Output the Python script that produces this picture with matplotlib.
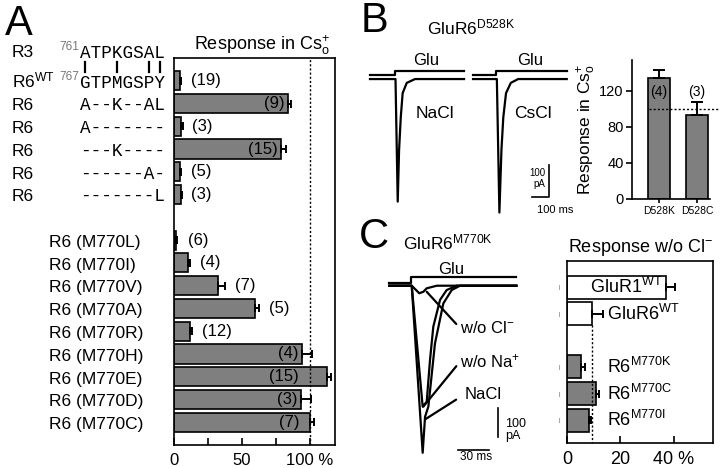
import matplotlib
matplotlib.use('Agg')
import matplotlib.pyplot as plt
import numpy as np

plt.rcParams['font.family'] = ['Liberation Sans', 'DejaVu Sans']
plt.rcParams['mathtext.fontset'] = 'custom'
plt.rcParams['mathtext.rm'] = 'Liberation Sans'
plt.rcParams['mathtext.it'] = 'Liberation Sans:italic'
plt.rcParams['mathtext.bf'] = 'Liberation Sans:bold'
plt.rcParams['axes.linewidth'] = 1.2

# ---------------- data ----------------
# panel A
a_top_labels = ['R6$^{\\mathrm{WT}}$', 'R6', 'R6', 'R6', 'R6', 'R6']
a_seqs = ['GTPMGSPY', 'A--K--AL', 'A-------', '---K----', '------A-', '-------L']
r3_seq = 'ATPKGSAL'
a_mark_pos = [0, 3, 6, 7]   # residues joined by a bar between R3 and R6
a_bot_labels = ['R6 (M770L)', 'R6 (M770I)', 'R6 (M770V)', 'R6 (M770A)', 'R6 (M770R)',
                'R6 (M770H)', 'R6 (M770E)', 'R6 (M770D)', 'R6 (M770C)']
a_vals = [4.5, 84, 5, 79, 4.5, 5, 1.5, 10.5, 32, 59.6, 12, 94.4, 112.7, 93.7, 99.8]
a_errs = [1.0, 2.0, 1.5, 3.0, 0.8, 0.8, 0.8, 1.5, 5.5, 3.0, 1.5, 7.0, 3.0, 7.0, 3.0]
a_n = [19, 9, 3, 15, 5, 3, 6, 4, 7, 5, 12, 4, 15, 3, 7]

# panel B
b_names = ['D528K', 'D528C']
b_vals = [134, 93]
b_errs = [9, 15]
b_n = [4, 3]
# traces (ms, pA)
b_nacl_t = [0, 150, 163, 171, 181, 192, 216, 265, 553]
b_nacl_i = [0, 0, -383, -222, -119, -44, -12, 0, 0]
b_cscl_t = [0, 140, 155, 167, 178, 194, 222, 265, 551]
b_cscl_i = [0, 0, -417, -222, -119, -44, -12, 0, 0]
b_cmd_nacl_t = [0, 147, 147, 553]
b_cmd_cscl_t = [0, 135, 135, 551]
b_cmd_lvl = [12, 12, 26, 26]

# panel C
c_names = ['GluR1$^{\\mathrm{WT}}$', 'GluR6$^{\\mathrm{WT}}$', 'R6$^{\\mathrm{M770K}}$',
           'R6$^{\\mathrm{M770C}}$', 'R6$^{\\mathrm{M770I}}$']
c_vals = [37, 9.5, 5.4, 10.7, 8.3]
c_errs = [3.5, 3.9, 1.2, 1.3, 0.7]
c_fill = ['white', 'white', '#7f7f7f', '#7f7f7f', '#7f7f7f']
c_cmd_t = [0, 20.7, 20.7, 123]
c_cmd_lvl = [8, 8, 29, 29]
c_nacl_t = [0, 21.7, 32.3, 34.6, 37.8, 44.2, 52.3, 60.4, 68.4, 123]
c_nacl_i = [0, 0, -576, -452, -417, -199, -61, -15, 0, 0]
c_nona_t = [0, 21.7, 32.3, 36.2, 39.4, 42.6, 49.1, 55.5, 65.2, 123]
c_nona_i = [0, 0, -417, -400, -256, -141, -49, -15, 0, 0]
c_nocl_t = [0, 21.7, 29, 32.9, 36.2, 45.9, 123]
c_nocl_i = [0, 0, -26, -21, -9, 0, 0]

GRAY = '#7f7f7f'
W, H = 720, 468
fig = plt.figure(figsize=(7.2, 4.68), dpi=100)


def px_axes(x0, y0, x1, y1):
    return fig.add_axes([x0 / W, 1 - y1 / H, (x1 - x0) / W, (y1 - y0) / H])


def fx(px):
    # figure pixel -> axes fraction for panel A
    return (px - 174) / 161.0


# panel letters
fig.text(5 / W, 1 - 35 / H, 'A', fontsize=30, va='baseline')
fig.text(361 / W, 1 - 32 / H, 'B', fontsize=30, va='baseline')
fig.text(359 / W, 1 - 248 / H, 'C', fontsize=30, va='baseline')

# ---------------- panel A ----------------
axA = px_axes(174, 58, 335, 445)
a_rows = list(range(6)) + list(range(7, 16))
axA.barh(a_rows, a_vals, height=0.84, color=GRAY, edgecolor='black', linewidth=1.2)
axA.errorbar(a_vals, a_rows, xerr=[np.zeros(len(a_vals)), a_errs], fmt='none',
             ecolor='black', elinewidth=1.4, capsize=3, capthick=1.4)
axA.axvline(100, color='black', ls=(0, (1.5, 1.5)), lw=1)
axA.set_xlim(0, 118.4)
axA.set_ylim(16, -1)
axA.set_yticks([])
axA.set_xticks([0, 50, 100])
axA.set_xticklabels(['0', '50', '100 %'])
axA.set_xticks([25, 75], minor=True)
axA.tick_params(axis='x', which='both', direction='in', length=5, width=1.2,
                labelsize=12, pad=6)
axA.text(fx(262), 1 + 13 / 387, 'Response in Cs$^{+}_{\\mathrm{o}}$', transform=axA.transAxes,
         ha='center', va='center', fontsize=13)

for r, v, e, n in zip(a_rows, a_vals, a_errs, a_n):
    if v > 75:
        axA.text(min(v - 3, 92), r, '(%d)' % n, ha='right', va='center', fontsize=12)
    else:
        axA.text(max(v + e, 3) + 7, r, '(%d)' % n, ha='left', va='center', fontsize=12)

yt = axA.get_yaxis_transform()
mono = 'Liberation Mono'
bl = 0.3  # baseline below row centre
axA.text(fx(12), -1.03, 'R3', transform=yt, ha='left', va='baseline', fontsize=12.5)
axA.text(fx(80), -1.0, r3_seq, transform=yt, ha='left', va='baseline', family=mono, fontsize=12.7)
axA.text(fx(79), -1.35, '761', transform=yt, ha='right', va='baseline', fontsize=8.5, color='#777777')
axA.text(fx(79), -0.03, '767', transform=yt, ha='right', va='baseline', fontsize=8.5, color='#777777')
for p in a_mark_pos:
    xm = fx(80 + 10.6 * (p + 0.5))
    axA.plot([xm, xm], [-0.82, -0.39], transform=yt, color='black', lw=1.6, clip_on=False)
for r, (lab, seq) in enumerate(zip(a_top_labels, a_seqs)):
    axA.text(fx(12), r + bl, lab, transform=yt, ha='left', va='baseline', fontsize=12.5)
    axA.text(fx(80), r + bl, seq, transform=yt, ha='left', va='baseline', family=mono, fontsize=12.7)
for r, lab in zip(range(7, 16), a_bot_labels):
    axA.text(fx(49), r + bl, lab, transform=yt, ha='left', va='baseline', fontsize=12.5)

# ---------------- panel B traces ----------------
axBt = px_axes(365, 40, 580, 225)
axBt.set_xlim(-29.4, 1235)
axBt.set_ylim(-456, 122)
axBt.axis('off')
for off, t, i, ct in [(0, b_nacl_t, b_nacl_i, b_cmd_nacl_t), (606, b_cscl_t, b_cscl_i, b_cmd_cscl_t)]:
    axBt.plot(np.array(t) + off, i, color='black', lw=1.6)
    axBt.plot(np.array(ct) + off, b_cmd_lvl, color='black', lw=1.6)
axBt.text(329, 44, 'Glu', ha='center', va='baseline', fontsize=12)
axBt.text(941, 44, 'Glu', ha='center', va='baseline', fontsize=12)
axBt.text(382, -122, 'NaCl', ha='center', va='baseline', fontsize=12.5)
axBt.text(959, -122, 'CsCl', ha='center', va='baseline', fontsize=12.5)
axBt.plot([1053, 1053, 953], [-269, -369, -369], color='black', lw=1.2)
axBt.text(1032, -303, '100', ha='right', va='baseline', fontsize=7)
axBt.text(1032, -336, 'pA', ha='right', va='baseline', fontsize=7)
axBt.text(982, -419, '100 ms', ha='left', va='baseline', fontsize=8)
fig.text(427 / W, 1 - 34.5 / H, 'GluR6$^{\\mathrm{D528K}}$', fontsize=12.5, va='baseline')

# ---------------- panel B bars ----------------
axBb = px_axes(632, 60, 710, 199)
xb = np.arange(len(b_vals))
axBb.bar(xb, b_vals, width=0.58, color=GRAY, edgecolor='black', linewidth=1.2)
axBb.errorbar(xb, b_vals, yerr=[np.zeros(len(b_vals)), b_errs], fmt='none',
              ecolor='black', elinewidth=1.4, capsize=4, capthick=1.4)
axBb.plot([-0.27, 1.56], [100, 100], color='black', ls=(0, (1.5, 1.5)), lw=1, clip_on=False)
for x, n in zip(xb, b_n):
    axBb.text(x, 119, '(%d)' % n, ha='center', va='center', fontsize=10)
axBb.set_xlim(-0.71, 1.34)
axBb.set_ylim(0, 154.4)
axBb.spines['top'].set_visible(False)
axBb.spines['right'].set_visible(False)
axBb.set_yticks([0, 40, 80, 120])
axBb.set_xticks(xb)
axBb.set_xticklabels(b_names)
axBb.tick_params(axis='y', direction='out', length=4, width=1.2, labelsize=10.5, pad=2)
axBb.tick_params(axis='x', direction='out', length=3, width=1.2, labelsize=7.5, pad=2)
axBb.set_ylabel('Response in Cs$^{+}_{\\mathrm{o}}$', fontsize=12.5, va='center')
axBb.yaxis.set_label_coords(-0.58, 0.5)

# ---------------- panel C traces ----------------
axCt = px_axes(380, 255, 560, 468)
axCt.set_xlim(-9, 165.2)
axCt.set_ylim(-628.6, 105.9)
axCt.axis('off')
axCt.plot(c_cmd_t, c_cmd_lvl, color='black', lw=1.6)
axCt.plot(c_nocl_t, c_nocl_i, color='black', lw=1.6)
axCt.plot(c_nona_t, c_nona_i, color='black', lw=1.6)
axCt.plot(c_nacl_t, c_nacl_i, color='black', lw=1.6)
axCt.text(60.3, 41, 'Glu', ha='center', va='baseline', fontsize=12)
ann = dict(arrowstyle='-', shrinkA=1, shrinkB=0, relpos=(0, 0.5), lw=1.6, color='black')
axCt.annotate('w/o Cl$^{-}$', xy=(36.2, -21), xytext=(68.4, -146), ha='left', va='center',
              fontsize=12, arrowprops=ann)
axCt.annotate('w/o Na$^{+}$', xy=(32.9, -417), xytext=(68.4, -262), ha='left', va='center',
              fontsize=12, arrowprops=ann)
axCt.annotate('NaCl', xy=(34.6, -461), xytext=(73, -374), ha='left', va='center',
              fontsize=12, arrowprops=dict(ann, shrinkA=5))
axCt.plot([105.1, 105.1], [-421.7, -521.7], color='black', lw=1.2)
axCt.plot([66.5, 96.5], [-566.6, -566.6], color='black', lw=1.2)
axCt.text(111.9, -487, '100', ha='left', va='baseline', fontsize=9)
axCt.text(111.9, -530, 'pA', ha='left', va='baseline', fontsize=9)
axCt.text(83.6, -601, '30 ms', ha='center', va='baseline', fontsize=8.5)
fig.text(403 / W, 1 - 249 / H, 'GluR6$^{\\mathrm{M770K}}$', fontsize=12.5, va='baseline')

# ---------------- panel C bars ----------------
axCb = px_axes(567, 261, 713, 443)
c_rows = [0, 1, 3, 4, 5]
axCb.barh(c_rows, c_vals, height=0.86, color=c_fill, edgecolor='black', linewidth=1.2)
axCb.errorbar(c_vals, c_rows, xerr=[np.zeros(len(c_vals)), c_errs], fmt='none',
              ecolor='black', elinewidth=1.4, capsize=3, capthick=1.4)
axCb.plot([c_vals[1], c_vals[1]], [1.43, 5.86], color='black', ls=(0, (1.5, 1.5)), lw=1)
axCb.set_xlim(0, 54.8)
axCb.set_ylim(5.86, -0.98)
for r, v, lab in zip(c_rows, c_vals, c_names):
    if v > 30:
        axCb.text(v - 1, r, lab, ha='right', va='center', fontsize=13)
    else:
        axCb.text(15, r, lab, ha='left', va='center', fontsize=13)
axCb.set_yticks(c_rows)
axCb.set_yticklabels(['|'] * len(c_rows), fontsize=4, color='#555555')
axCb.tick_params(axis='y', length=0, pad=5)
axCb.set_xticks([0, 20, 40])
axCb.set_xticklabels(['0', '20', '40 %'])
axCb.tick_params(axis='x', direction='in', length=5, width=1.2, labelsize=13, pad=6)
axCb.text(0.5, 1 + 13 / 182, 'Response w/o Cl$^{-}$', transform=axCb.transAxes,
          ha='center', va='center', fontsize=13)

fig.savefig('out.png', dpi=100)
